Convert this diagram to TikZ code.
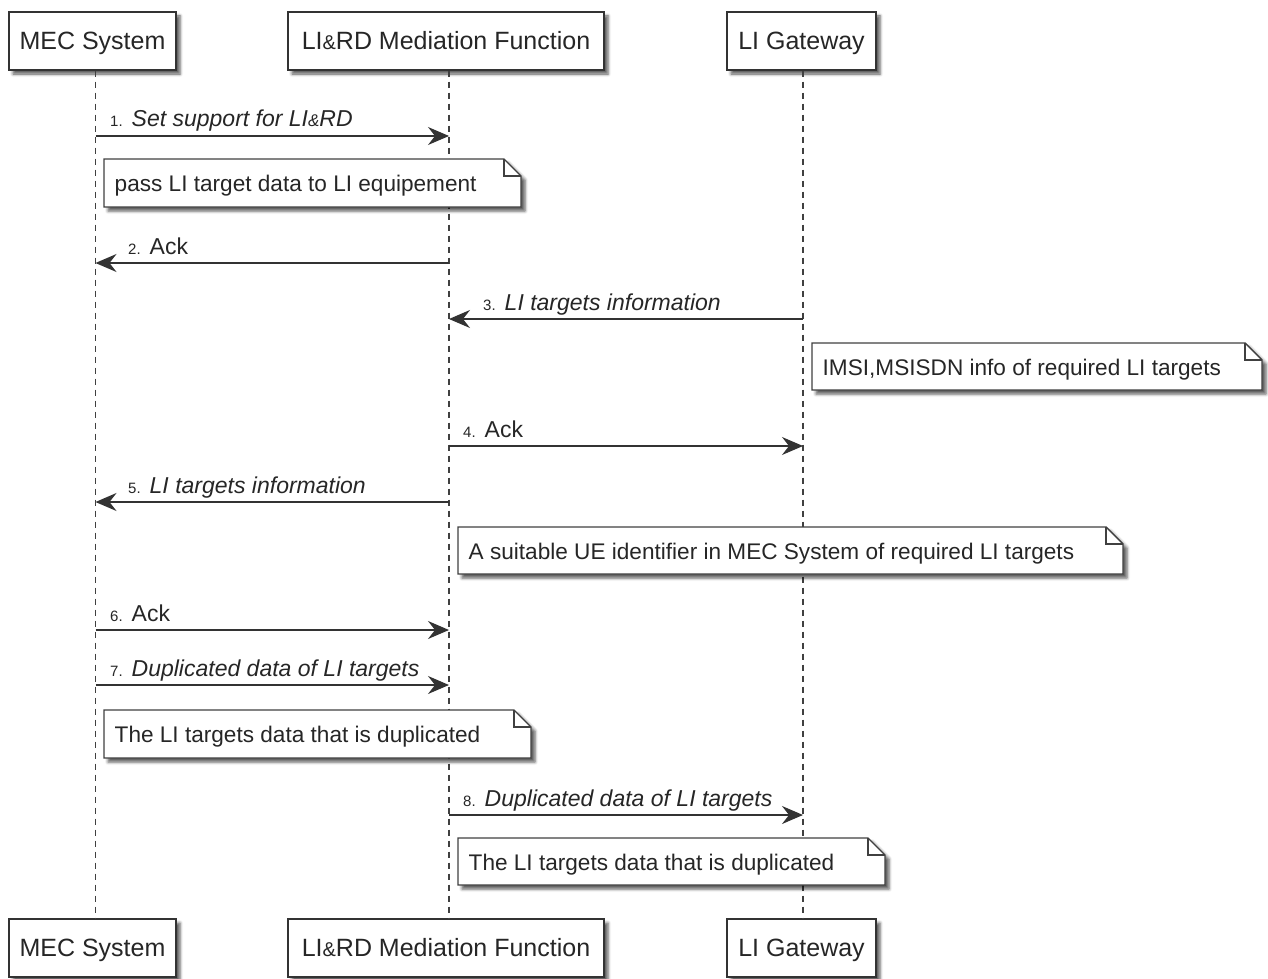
\documentclass[tikz,border=0pt]{standalone}
\usepackage{fontspec}
\setmainfont{Liberation Sans}
\usetikzlibrary{arrows.meta,shadows.blur}

% small step number in front of a message label
\newcommand\seqno[1]{{\fontsize{15}{18}\selectfont #1}\hspace{9pt}}
% the small ampersand used in "LI&RD"
\newcommand\amp{{\fontsize{17}{20}\selectfont\&}}
\newcommand\bigamp{{\fontsize{20}{24}\selectfont\&}}

% note with a folded top-right corner: name, x1, y1, x2, y2, text
\newcommand\notebox[6]{%
  \filldraw[noteshape] (#2,#3) -- (#4-17,#3) -- (#4,#3+17) -- (#4,#5) -- (#2,#5) -- cycle;
  \draw[notefold] (#4-17,#3) -- (#4-17,#3+17) -- (#4,#3+17);
  \node[notetxt] (#1) at (#2+10.5,#3+32.5) {#6};
}

\begin{document}
\begin{tikzpicture}[x=1pt,y=-1pt,
  shade/.style={blur shadow={shadow xshift=4pt, shadow yshift=-4pt,
      shadow blur radius=3pt, shadow opacity=65}},
  box/.style={draw=black!80, line width=1.4pt, fill=white, inner sep=0pt,
      minimum height=58pt, text height=17.5pt, text depth=0pt,
      font=\fontsize{25}{29}\selectfont, text=black!85, shade},
  life/.style={draw=black!75, line width=1.5pt, dash pattern=on 6pt off 5pt},
  msg/.style={draw=black!80, line width=1.4pt,
      -{Stealth[length=21pt,width=18pt,inset=7pt]}},
  lbl/.style={anchor=base west, inner sep=0pt,
      font=\fontsize{23}{27}\selectfont, text=black!85},
  notetxt/.style={lbl, font=\fontsize{22.6}{27}\selectfont},
  noteshape/.style={draw=black!75, line width=1.4pt, fill=white, shade},
  notefold/.style={draw=black!75, line width=1.4pt, line join=miter},
]
\useasboundingbox (0,0) rectangle (1268,979);

% participants, top and bottom
\node[box, minimum width=167pt] (mecT) at (92.5,41) {MEC System};
\node[box, minimum width=316pt] (medT) at (446,41) {LI\bigamp RD Mediation Function};
\node[box, minimum width=149pt] (gwT)  at (801.5,41) {LI Gateway};
\node[box, minimum width=167pt] (mecB) at (92.5,948) {MEC System};
\node[box, minimum width=316pt] (medB) at (446,948) {LI\bigamp RD Mediation Function};
\node[box, minimum width=149pt] (gwB)  at (801.5,948) {LI Gateway};

% lifelines
\coordinate (Lmec) at (95.5,0);
\coordinate (Lmed) at (449,0);
\coordinate (Lgw)  at (803,0);
\draw[life] (Lmec |- mecT.south) -- (Lmec |- mecB.north);
\draw[life] (Lmed |- medT.south) -- (Lmed |- medB.north);
\draw[life] (Lgw |- gwT.south) -- (Lgw |- gwB.north);

% message rows
\coordinate (r1) at (0,136);
\coordinate (r2) at (0,263);
\coordinate (r3) at (0,319);
\coordinate (r4) at (0,446);
\coordinate (r5) at (0,502);
\coordinate (r6) at (0,630);
\coordinate (r7) at (0,685);
\coordinate (r8) at (0,815);

% 1
\draw[msg] (Lmec |- r1) -- (Lmed |- r1);
\node[lbl] (m1) at (110,127) {\seqno{1.}\textit{Set support for LI\amp RD}};
\notebox{n1}{104}{159}{521}{207}{pass LI target data to LI equipement}

% 2
\draw[msg] (Lmed |- r2) -- (Lmec |- r2);
\node[lbl] (m2) at (128,254) {\seqno{2.}Ack};

% 3
\draw[msg] (Lgw |- r3) -- (Lmed |- r3);
\node[lbl] (m3) at (483,310) {\seqno{3.}\textit{LI targets information}};
\notebox{n2}{812}{343}{1262}{390}{IMSI,MSISDN info of required LI targets}

% 4
\draw[msg] (Lmed |- r4) -- (Lgw |- r4);
\node[lbl] (m4) at (463,437) {\seqno{4.}Ack};

% 5
\draw[msg] (Lmed |- r5) -- (Lmec |- r5);
\node[lbl] (m5) at (128,493) {\seqno{5.}\textit{LI targets information}};
\notebox{n3}{458}{527}{1123}{574}{A suitable UE identifier in MEC System of required LI targets}

% 6
\draw[msg] (Lmec |- r6) -- (Lmed |- r6);
\node[lbl] (m6) at (110,621) {\seqno{6.}Ack};

% 7
\draw[msg] (Lmec |- r7) -- (Lmed |- r7);
\node[lbl] (m7) at (110,676) {\seqno{7.}\textit{Duplicated data of LI targets}};
\notebox{n4}{104}{710}{531}{758}{The LI targets data that is duplicated}

% 8
\draw[msg] (Lmed |- r8) -- (Lgw |- r8);
\node[lbl] (m8) at (463,806) {\seqno{8.}\textit{Duplicated data of LI targets}};
\notebox{n5}{458}{838}{885}{885}{The LI targets data that is duplicated}
\end{tikzpicture}
\end{document}
